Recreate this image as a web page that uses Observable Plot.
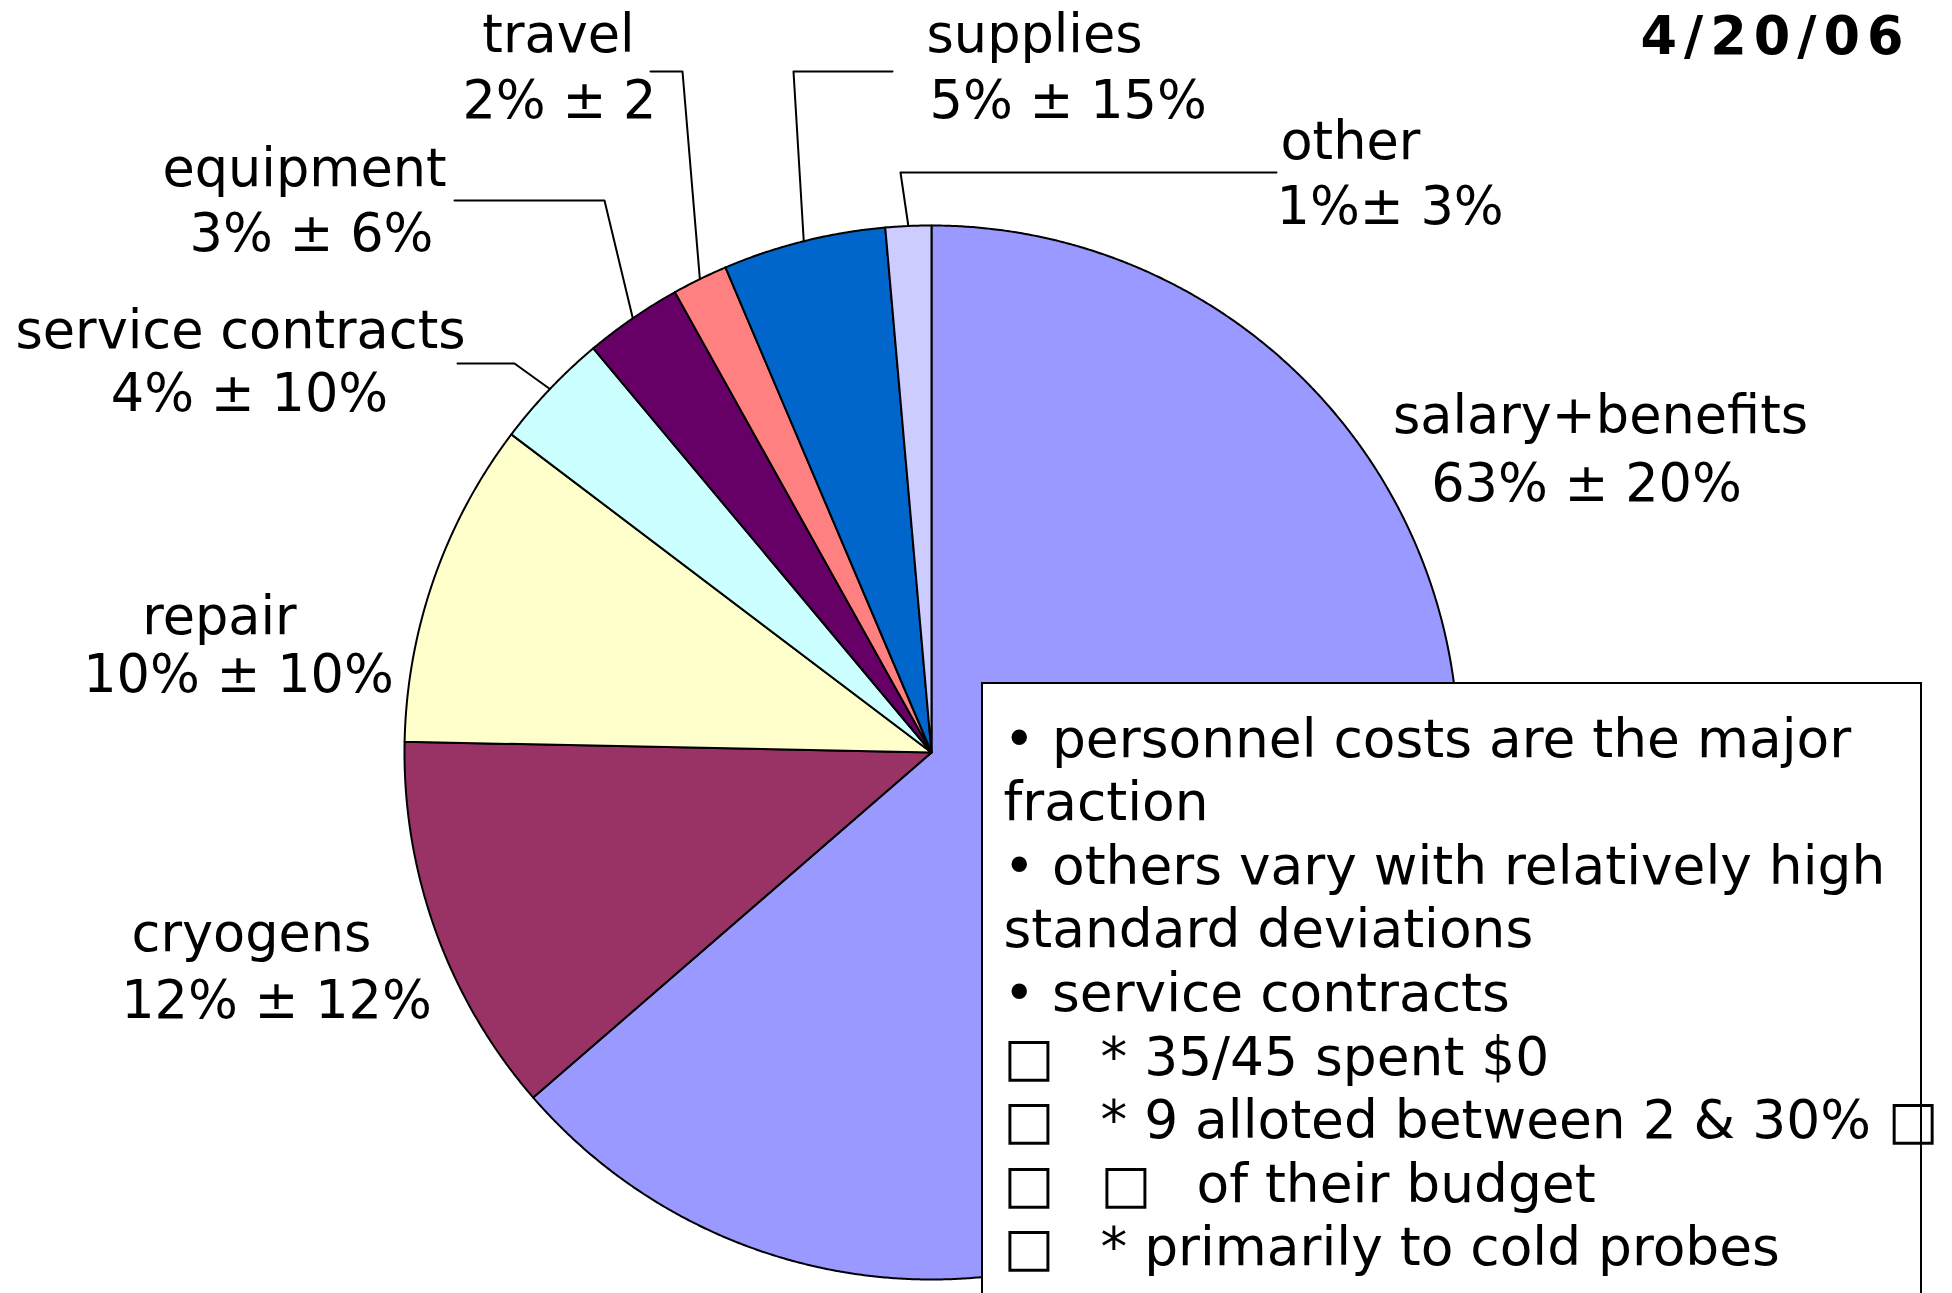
<!DOCTYPE html>
<html>
<head>
<meta charset="utf-8">
<script src="https://cdn.jsdelivr.net/npm/d3@7"></script>
<script src="https://cdn.jsdelivr.net/npm/@observablehq/plot@0.6"></script>
<style>
  html, body { margin: 0; padding: 0; background: #fff; }
  #chart svg { display: block; }
</style>
</head>
<body>
<div id="chart"></div>
<script>
// ---------------- data ----------------
const categories = ["salary+benefits", "cryogens", "repair", "service contracts", "equipment", "travel", "supplies", "other"];
const shares = [63.7, 11.7, 10.0, 3.6, 3.0, 1.7, 5.0, 1.4];
const valueLabels = ["63% ± 20%", "12% ± 12%", "10% ± 10%", "4% ± 10%", "3% ± 6%", "2% ± 2", "5% ± 15%", "1%± 3%"];
const sliceColors = ["#9999FF", "#993366", "#FFFFCC", "#CCFFFF", "#660066", "#FF8080", "#0066CC", "#CCCCFF"];
const dateLabel = "4/20/06";
const notes = [
  ["• personnel costs are the major"],
  ["fraction"],
  ["• others vary with relatively high"],
  ["standard deviations"],
  ["• service contracts"],
  ["□", "* 35/45 spent $0"],
  ["□", "* 9 alloted between 2 & 30% □"],
  ["□", "□", "of their budget"],
  ["□", "* primarily to cold probes"]
];

// ---------------- layout (pixels) ----------------
const W = 1952, H = 1293, CX = 931, CY = 752, R = 527;
const ux = px => (px - CX) / R;
const uy = py => (CY - py) / R;
// per category: [name x, name baseline, value x, value baseline, anchor]
const labelLayout = [
  [1600, 432, 1586, 500, "middle"],
  [251, 950, 276, 1017, "middle"],
  [219, 633, 238, 691, "middle"],
  [240, 347, 249, 410, "middle"],
  [304, 185, 311, 250, "middle"],
  [558, 51, 559, 117, "middle"],
  [926, 51, 929, 117, "start"],
  [1280, 158, 1276, 223, "start"]
];
// leader lines: category index -> [label end, elbow] (then to slice edge)
const leaderLayout = {
  3: [[457, 363], [514, 363]],
  4: [[454, 200], [604, 200]],
  5: [[650, 71], [682, 71]],
  6: [[892, 71], [793, 71]],
  7: [[1276, 172], [900, 172]]
};
const boxLayout = {left: 982, right: 1921, top: 683, bottom: 1320, textX: [1003, 1100, 1196], firstBaseline: 756, lineStep: 63.6};
const FONT = 52.5;
const NOTE_FONT = 53.4;
const DATE_SPACING = 7;

// ---------------- derived ----------------
const slices = categories.map((c, i) => ({i, name: c, share: shares[i], fill: sliceColors[i]}));
const arcs = d3.pie().sort(null).value(d => d.share)(slices);

const piePts = arcs.flatMap(a => {
  const n = Math.max(2, Math.ceil((a.endAngle - a.startAngle) / (Math.PI / 720)));
  const pts = [{k: a.data.i, fill: a.data.fill, x: 0, y: 0}];
  for (let j = 0; j <= n; j++) {
    const t = a.startAngle + (a.endAngle - a.startAngle) * j / n;
    pts.push({k: a.data.i, fill: a.data.fill, x: Math.sin(t), y: Math.cos(t)});
  }
  return pts;
});

const leaderPts = Object.entries(leaderLayout).flatMap(([k, pts]) => {
  const a = arcs[+k];
  const mid = (a.startAngle + a.endAngle) / 2;
  return [
    ...pts.map(([px, py]) => ({k: +k, x: ux(px), y: uy(py)})),
    {k: +k, x: Math.sin(mid), y: Math.cos(mid)}
  ];
});

const labelItems = categories.flatMap((c, i) => {
  const [x1, y1, x2, y2, anchor] = labelLayout[i];
  return [
    {text: c, x: ux(x1), y: uy(y1), anchor},
    {text: valueLabels[i], x: ux(x2), y: uy(y2), anchor}
  ];
});

const noteItems = notes.flatMap((segs, li) =>
  segs.map((s, si) => ({
    text: s,
    x: ux(boxLayout.textX[si]),
    y: uy(boxLayout.firstBaseline + li * boxLayout.lineStep)
  }))
);

const chart = Plot.plot({
  width: W,
  height: H,
  margin: 0,
  x: {domain: [ux(0), ux(W)], axis: null},
  y: {domain: [uy(H), uy(0)], axis: null},
  color: {type: "identity"},
  style: {fontFamily: "'DejaVu Sans', Verdana, sans-serif", background: "white", color: "black"},
  marks: [
    Plot.line(piePts, {x: "x", y: "y", z: "k", fill: "fill", stroke: "black", strokeWidth: 2, curve: "linear-closed", strokeLinejoin: "round"}),
    Plot.line(leaderPts, {x: "x", y: "y", z: "k", stroke: "black", strokeWidth: 2, fill: "none"}),
    Plot.text(labelItems.filter(d => d.anchor === "middle"), {x: "x", y: "y", text: "text", textAnchor: "middle", lineAnchor: "bottom", fontSize: FONT, fill: "black"}),
    Plot.text(labelItems.filter(d => d.anchor === "start"), {x: "x", y: "y", text: "text", textAnchor: "start", lineAnchor: "bottom", fontSize: FONT, fill: "black"}),
    Plot.rect([boxLayout], {x1: d => ux(d.left), x2: d => ux(d.right), y1: d => uy(d.top), y2: d => uy(d.bottom), fill: "white", stroke: "black", strokeWidth: 2}),
    Plot.text(noteItems, {x: "x", y: "y", text: "text", textAnchor: "start", lineAnchor: "bottom", fontSize: NOTE_FONT, fill: "black"}),
    Plot.text([dateLabel], {x: () => ux(1910), y: () => uy(53), text: d => d, textAnchor: "end", lineAnchor: "bottom", fontSize: FONT, fontWeight: "bold", fill: "black"})
  ]
});
d3.select(chart).selectAll("text")
  .filter(function () { return this.textContent === dateLabel; })
  .attr("letter-spacing", DATE_SPACING);
document.getElementById("chart").appendChild(chart);
</script>
</body>
</html>
